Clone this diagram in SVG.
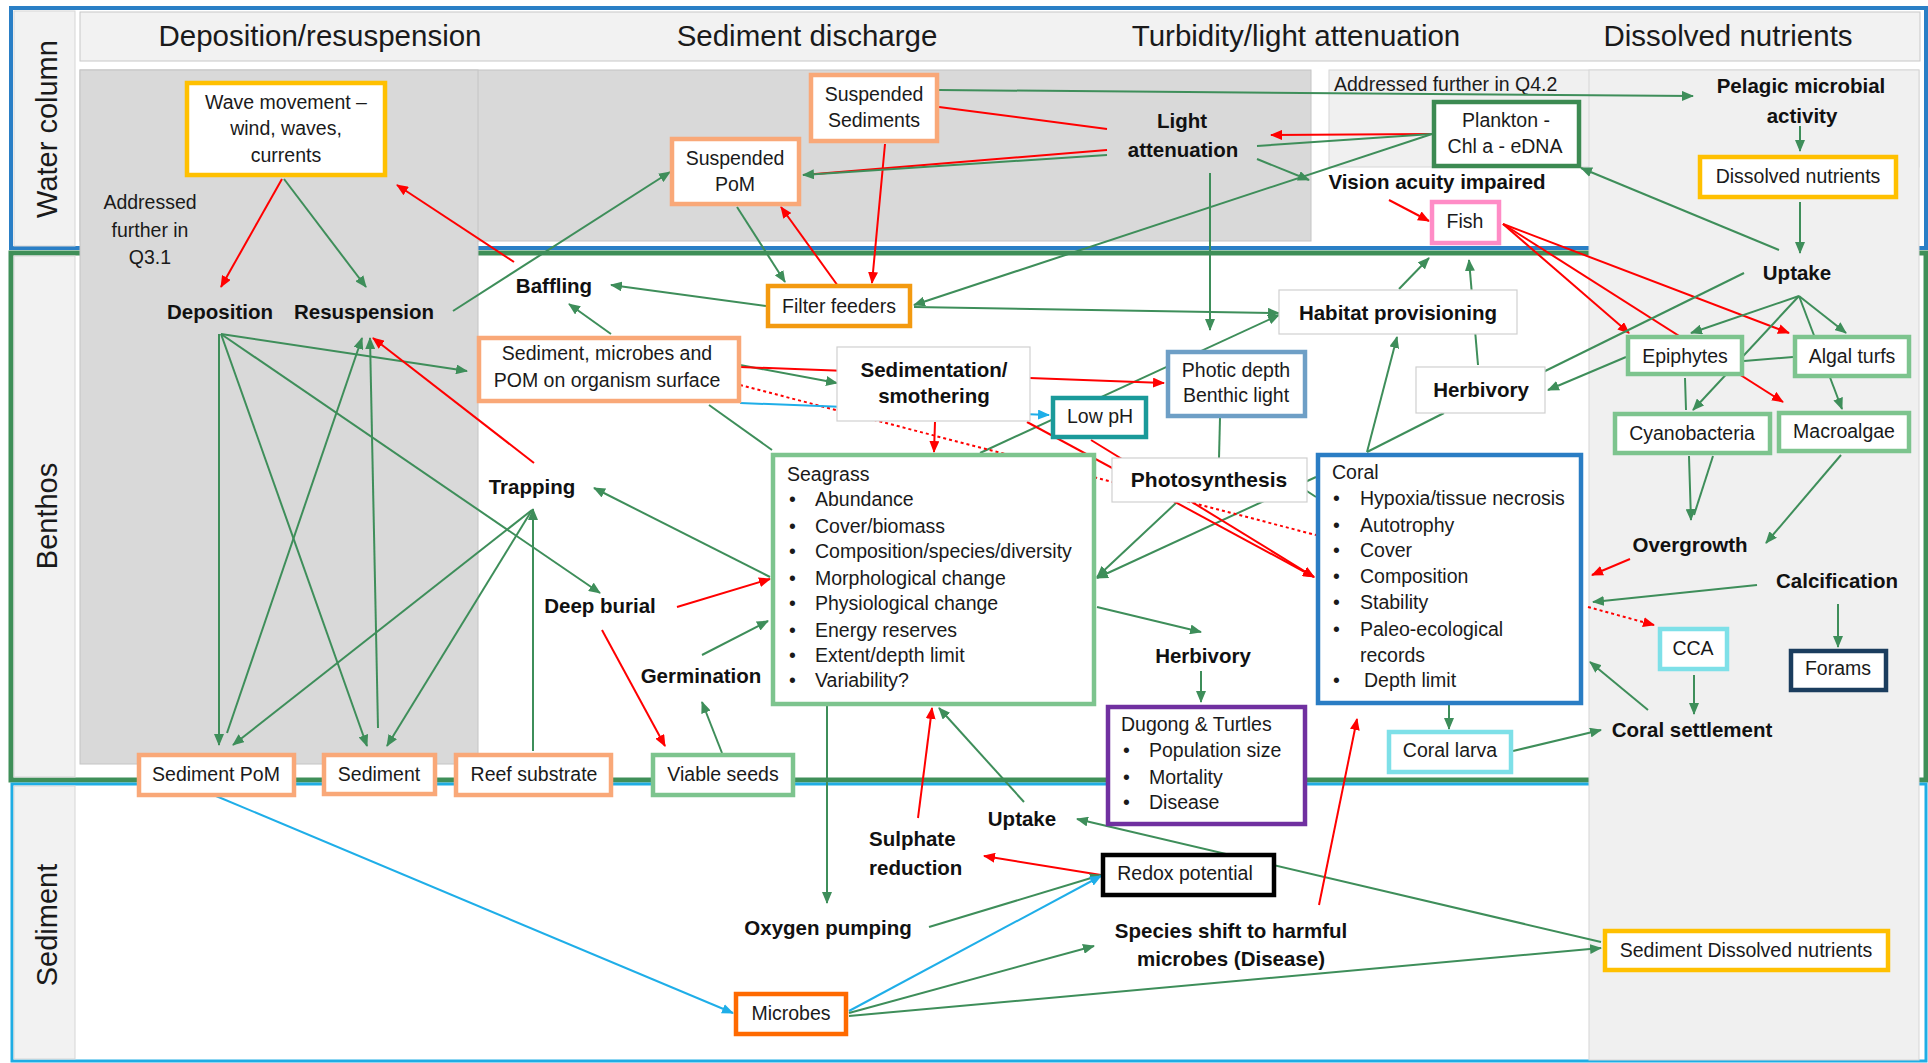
<svg xmlns="http://www.w3.org/2000/svg" width="1928" height="1063" viewBox="0 0 1928 1063">
<style>
text{font-family:"Liberation Sans",Arial,sans-serif;fill:#1a1a1a}
.t{font-size:19.5px;text-anchor:middle}
.ts{font-size:19.5px}
.l{font-size:20.5px;font-weight:bold;text-anchor:middle;fill:#111}
.h{font-size:29.5px;text-anchor:middle}
.v{font-size:29px;text-anchor:middle}
.bx{fill:#fff;stroke-width:4.5}
.tb{fill:#fff;stroke:#d0d0d0;stroke-width:1.2}
.c line{stroke-width:2;fill:none}
.g{stroke:#3E8E5A}.r{stroke:#FF0000}.b{stroke:#1FAEE8}
.d{stroke-dasharray:3 3}
.pe{stroke:#F9A878}.lg{stroke:#7DC48E}.go{stroke:#FFC000}
</style>
<defs>
<marker id="mg" viewBox="0 0 12 10" refX="11" refY="5" markerWidth="12" markerHeight="10" markerUnits="userSpaceOnUse" orient="auto"><path d="M0,0L12,5L0,10z" fill="#3E8E5A"/></marker>
<marker id="mr" viewBox="0 0 12 10" refX="11" refY="5" markerWidth="12" markerHeight="10" markerUnits="userSpaceOnUse" orient="auto"><path d="M0,0L12,5L0,10z" fill="#FF0000"/></marker>
<marker id="mb" viewBox="0 0 12 10" refX="11" refY="5" markerWidth="12" markerHeight="10" markerUnits="userSpaceOnUse" orient="auto"><path d="M0,0L12,5L0,10z" fill="#1FAEE8"/></marker>
</defs>
<rect width="1928" height="1063" fill="#fff"/>
<g id="bands">
<rect x="11" y="8" width="1915" height="240" fill="#fff" stroke="#2A7FC6" stroke-width="4"/>
<rect x="11" y="253" width="1915" height="527" fill="#fff" stroke="#3F8F58" stroke-width="5"/>
<rect x="12" y="784" width="1914" height="277" fill="#fff" stroke="#1FADE4" stroke-width="3"/>
<rect x="14" y="11" width="61" height="235" fill="#f2f2f2" stroke="#d6d6d6" stroke-width="1"/>
<rect x="14" y="256" width="61" height="521" fill="#f2f2f2" stroke="#d6d6d6" stroke-width="1"/>
<rect x="14" y="786" width="61" height="273" fill="#f2f2f2" stroke="#d6d6d6" stroke-width="1"/>
<text class="v" transform="translate(57,129) rotate(-90)">Water column</text>
<text class="v" transform="translate(57,516) rotate(-90)">Benthos</text>
<text class="v" transform="translate(57,925) rotate(-90)">Sediment</text>
</g>
<g id="panels">
<rect x="80" y="12" width="1840" height="49" fill="#f2f2f2" stroke="#c8c8c8" stroke-width="1"/>
<rect x="80" y="70" width="1231" height="171" fill="#d9d9d9" stroke="#c4c4c4" stroke-width="1"/>
<rect x="80" y="70" width="398" height="694" fill="#d9d9d9" stroke="#c4c4c4" stroke-width="1"/>
<rect x="81" y="71" width="396" height="170" fill="#d9d9d9"/>
<rect x="1329" y="70" width="590" height="97" fill="#f0f0f0" stroke="#d6d6d6" stroke-width="1"/>
<rect x="1589" y="70" width="330" height="990" fill="#f0f0f0" stroke="#d6d6d6" stroke-width="1"/>
<rect x="1590" y="71" width="328" height="97" fill="#f0f0f0"/>
<text class="h" x="320" y="46">Deposition/resuspension</text>
<text class="h" x="807" y="46">Sediment discharge</text>
<text class="h" x="1296" y="46">Turbidity/light attenuation</text>
<text class="h" x="1728" y="46">Dissolved nutrients</text>
<text class="t" x="150" y="209">Addressed</text>
<text class="t" x="150" y="237">further in</text>
<text class="t" x="150" y="264">Q3.1</text>
<text class="ts" x="1334" y="91">Addressed further in Q4.2</text>
</g>
<g id="connectors" class="c">
<line class="r" x1="282" y1="179" x2="221" y2="287" marker-end="url(#mr)"/>
<line class="g" x1="284" y1="179" x2="366" y2="287" marker-end="url(#mg)"/>
<line class="r" x1="514" y1="262" x2="397" y2="185" marker-end="url(#mr)"/>
<line class="g" x1="453" y1="311" x2="670" y2="172" marker-end="url(#mg)"/>
<line class="g" x1="737" y1="207" x2="785" y2="282" marker-end="url(#mg)"/>
<line class="r" x1="838" y1="286" x2="781" y2="207" marker-end="url(#mr)"/>
<line class="r" x1="885" y1="144" x2="872" y2="283" marker-end="url(#mr)"/>
<line class="g" x1="766" y1="306" x2="611" y2="285" marker-end="url(#mg)"/>
<line class="g" x1="611" y1="334" x2="569" y2="304" marker-end="url(#mg)"/>
<line class="r" x1="1107" y1="129" x2="939" y2="107"/>
<line class="r" x1="1107" y1="150" x2="803" y2="175"/>
<line class="g" x1="1107" y1="155" x2="803" y2="175" marker-end="url(#mg)"/>
<line class="r" x1="1432" y1="134" x2="1271" y2="135" marker-end="url(#mr)"/>
<line class="g" x1="1432" y1="134" x2="1257" y2="146"/>
<line class="g" x1="1257" y1="159" x2="1309" y2="180" marker-end="url(#mg)"/>
<line class="g" x1="1432" y1="134" x2="914" y2="305" marker-end="url(#mg)"/>
<line class="g" x1="914" y1="307" x2="1279" y2="313" marker-end="url(#mg)"/>
<line class="g" x1="1210" y1="173" x2="1210" y2="330" marker-end="url(#mg)"/>
<line class="g" x1="939" y1="90" x2="1693" y2="96" marker-end="url(#mg)"/>
<line class="g" x1="1800" y1="126" x2="1800" y2="151" marker-end="url(#mg)"/>
<line class="g" x1="1800" y1="202" x2="1800" y2="253" marker-end="url(#mg)"/>
<line class="g" x1="1779" y1="250" x2="1581" y2="168" marker-end="url(#mg)"/>
<line class="r" x1="1389" y1="200" x2="1429" y2="221" marker-end="url(#mr)"/>
<line class="r" x1="1503" y1="224" x2="1629" y2="333" marker-end="url(#mr)"/>
<line class="r" x1="1503" y1="224" x2="1783" y2="402" marker-end="url(#mr)"/>
<line class="r" x1="1503" y1="224" x2="1789" y2="333" marker-end="url(#mr)"/>
<line class="g" x1="1799" y1="296" x2="1691" y2="333" marker-end="url(#mg)"/>
<line class="g" x1="1799" y1="296" x2="1693" y2="410" marker-end="url(#mg)"/>
<line class="g" x1="1799" y1="296" x2="1846" y2="333" marker-end="url(#mg)"/>
<line class="g" x1="1799" y1="296" x2="1842" y2="409" marker-end="url(#mg)"/>
<line class="g" x1="1744" y1="273" x2="1533" y2="377" marker-end="url(#mg)"/>
<line class="g" x1="1793" y1="357" x2="1744" y2="361"/>
<line class="g" x1="1626" y1="357" x2="1548" y2="390" marker-end="url(#mg)"/>
<line class="g" x1="1685" y1="378" x2="1686" y2="410"/>
<line class="g" x1="1689" y1="456" x2="1691" y2="520" marker-end="url(#mg)"/>
<line class="g" x1="1713" y1="456" x2="1694" y2="515"/>
<line class="g" x1="1841" y1="455" x2="1766" y2="543" marker-end="url(#mg)"/>
<line class="r" x1="1630" y1="559" x2="1592" y2="575" marker-end="url(#mr)"/>
<line class="g" x1="1757" y1="585" x2="1593" y2="602" marker-end="url(#mg)"/>
<line class="g" x1="1838" y1="604" x2="1838" y2="647" marker-end="url(#mg)"/>
<line class="r d" x1="1588" y1="607" x2="1654" y2="625" marker-end="url(#mr)"/>
<line class="g" x1="1694" y1="675" x2="1694" y2="714" marker-end="url(#mg)"/>
<line class="g" x1="1648" y1="710" x2="1590" y2="662" marker-end="url(#mg)"/>
<line class="g" x1="1513" y1="751" x2="1601" y2="730" marker-end="url(#mg)"/>
<line class="g" x1="1449" y1="705" x2="1449" y2="729" marker-end="url(#mg)"/>
<line class="g" x1="1399" y1="289" x2="1429" y2="258" marker-end="url(#mg)"/>
<line class="g" x1="1478" y1="365" x2="1469" y2="260" marker-end="url(#mg)"/>
<line class="g" x1="1367" y1="452" x2="1397" y2="337" marker-end="url(#mg)"/>
<line class="g" x1="1367" y1="452" x2="1444" y2="413"/>
<line class="g" x1="1220" y1="418" x2="1219" y2="458"/>
<line class="g" x1="1176" y1="503" x2="1097" y2="577" marker-end="url(#mg)"/>
<line class="g" x1="1316" y1="477" x2="1097" y2="578" marker-end="url(#mg)"/>
<line class="g" x1="1290" y1="480" x2="1316" y2="497"/>
<line class="g" x1="980" y1="453" x2="1279" y2="315" marker-end="url(#mg)"/>
<line class="g" x1="1097" y1="607" x2="1201" y2="632" marker-end="url(#mg)"/>
<line class="g" x1="1201" y1="671" x2="1201" y2="702" marker-end="url(#mg)"/>
<line class="r" x1="935" y1="422" x2="934" y2="452" marker-end="url(#mr)"/>
<line class="g" x1="740" y1="365" x2="837" y2="383" marker-end="url(#mg)"/>
<line class="r" x1="740" y1="367" x2="1164" y2="383" marker-end="url(#mr)"/>
<line class="r d" x1="740" y1="385" x2="1316" y2="535"/>
<line class="b" x1="740" y1="403" x2="1049" y2="415" marker-end="url(#mb)"/>
<line class="r" x1="1027" y1="422" x2="1314" y2="577" marker-end="url(#mr)"/>
<line class="r" x1="1091" y1="440" x2="1314" y2="577" marker-end="url(#mr)"/>
<line class="g" x1="709" y1="405" x2="772" y2="450"/>
<line class="g" x1="219" y1="334" x2="219" y2="745" marker-end="url(#mg)"/>
<line class="g" x1="221" y1="334" x2="367" y2="746" marker-end="url(#mg)"/>
<line class="g" x1="221" y1="334" x2="467" y2="371" marker-end="url(#mg)"/>
<line class="g" x1="221" y1="334" x2="600" y2="593" marker-end="url(#mg)"/>
<line class="g" x1="227" y1="733" x2="362" y2="338" marker-end="url(#mg)"/>
<line class="g" x1="378" y1="728" x2="370" y2="338" marker-end="url(#mg)"/>
<line class="r" x1="534" y1="463" x2="373" y2="338" marker-end="url(#mr)"/>
<line class="g" x1="532" y1="510" x2="233" y2="745" marker-end="url(#mg)"/>
<line class="g" x1="532" y1="510" x2="387" y2="746" marker-end="url(#mg)"/>
<line class="g" x1="533" y1="751" x2="533" y2="509" marker-end="url(#mg)"/>
<line class="g" x1="770" y1="577" x2="594" y2="488" marker-end="url(#mg)"/>
<line class="r" x1="677" y1="607" x2="770" y2="579" marker-end="url(#mr)"/>
<line class="r" x1="602" y1="630" x2="665" y2="746" marker-end="url(#mr)"/>
<line class="g" x1="722" y1="753" x2="702" y2="702" marker-end="url(#mg)"/>
<line class="g" x1="702" y1="655" x2="768" y2="621" marker-end="url(#mg)"/>
<line class="g" x1="827" y1="706" x2="827" y2="903" marker-end="url(#mg)"/>
<line class="r" x1="918" y1="818" x2="932" y2="708" marker-end="url(#mr)"/>
<line class="g" x1="1024" y1="802" x2="939" y2="708" marker-end="url(#mg)"/>
<line class="g" x1="1601" y1="942" x2="1077" y2="819" marker-end="url(#mg)"/>
<line class="r" x1="1101" y1="875" x2="984" y2="856" marker-end="url(#mr)"/>
<line class="g" x1="929" y1="927" x2="1101" y2="875" marker-end="url(#mg)"/>
<line class="b" x1="849" y1="1011" x2="1101" y2="876" marker-end="url(#mb)"/>
<line class="g" x1="849" y1="1013" x2="1094" y2="946" marker-end="url(#mg)"/>
<line class="g" x1="849" y1="1016" x2="1601" y2="948" marker-end="url(#mg)"/>
<line class="b" x1="216" y1="796" x2="733" y2="1013" marker-end="url(#mb)"/>
<line class="r" x1="1319" y1="905" x2="1357" y2="719" marker-end="url(#mr)"/>
</g>
<g id="n-wave"><rect class="bx go" x="187" y="83" width="198" height="92"/><text class="t" x="286" y="109">Wave movement –</text><text class="t" x="286" y="135">wind, waves,</text><text class="t" x="286" y="162">currents</text></g>
<g id="n-deposition"><text class="l" x="220" y="319">Deposition</text></g>
<g id="n-resuspension"><text class="l" x="364" y="319">Resuspension</text></g>
<g id="n-susp-sed"><rect class="bx pe" x="811" y="75" width="126" height="66"/><text class="t" x="874" y="101">Suspended</text><text class="t" x="874" y="127">Sediments</text></g>
<g id="n-susp-pom"><rect class="bx pe" x="672" y="139" width="127" height="65"/><text class="t" x="735" y="165">Suspended</text><text class="t" x="735" y="191">PoM</text></g>
<g id="n-filter"><rect class="bx" stroke="#F39A10" x="768" y="286" width="142" height="40"/><text class="t" x="839" y="313">Filter feeders</text></g>
<g id="n-light"><text class="l" x="1182" y="128">Light</text><text class="l" x="1183" y="157">attenuation</text></g>
<g id="n-plankton"><rect class="bx" stroke="#3C8A52" x="1434" y="102" width="145" height="64"/><text class="t" x="1506" y="127">Plankton -</text><text class="t" x="1505" y="153">Chl a - eDNA</text></g>
<g id="n-pelagic"><text class="l" x="1801" y="93">Pelagic microbial</text><text class="l" x="1802" y="123">activity</text></g>
<g id="n-dissolved"><rect class="bx go" x="1700" y="157" width="196" height="40"/><text class="t" x="1798" y="183">Dissolved nutrients</text></g>
<g id="n-uptake"><text class="l" x="1797" y="280">Uptake</text></g>
<g id="n-vision"><text class="l" x="1437" y="189">Vision acuity impaired</text></g>
<g id="n-fish"><rect class="bx" stroke="#FF8CC6" x="1432" y="202" width="67" height="41"/><text class="t" x="1465" y="228">Fish</text></g>
<g id="n-baffling"><text class="l" x="554" y="293">Baffling</text></g>
<g id="n-habitat"><rect class="tb" x="1279" y="290" width="238" height="44"/><text class="l" x="1398" y="320">Habitat provisioning</text></g>
<g id="n-sedbox"><rect class="bx pe" x="479" y="338" width="260" height="63"/><text class="t" x="607" y="360">Sediment, microbes and</text><text class="t" x="607" y="387">POM on organism surface</text></g>
<g id="n-sedimentation"><rect class="tb" x="837" y="347" width="193" height="74"/><text class="l" x="934" y="377">Sedimentation/</text><text class="l" x="934" y="403">smothering</text></g>
<g id="n-photic"><rect class="bx" stroke="#6E9FC6" x="1168" y="352" width="137" height="64"/><text class="t" x="1236" y="377">Photic depth</text><text class="t" x="1236" y="402">Benthic light</text></g>
<g id="n-lowph"><rect class="bx" stroke="#1A9A9A" x="1053" y="398" width="93" height="39"/><text class="t" x="1100" y="423">Low pH</text></g>
<g id="n-herbivory-r"><rect class="tb" x="1416" y="367" width="129" height="46"/><text class="l" x="1481" y="397">Herbivory</text></g>
<g id="n-epiphytes"><rect class="bx lg" x="1628" y="337" width="114" height="37"/><text class="t" x="1685" y="363">Epiphytes</text></g>
<g id="n-algal"><rect class="bx lg" x="1795" y="337" width="114" height="39"/><text class="t" x="1852" y="363">Algal turfs</text></g>
<g id="n-cyano"><rect class="bx lg" x="1615" y="414" width="155" height="39"/><text class="t" x="1692" y="440">Cyanobacteria</text></g>
<g id="n-macro"><rect class="bx lg" x="1779" y="413" width="130" height="38"/><text class="t" x="1844" y="438">Macroalgae</text></g>
<g id="n-photosynthesis"><rect class="tb" x="1112" y="458" width="195" height="44"/><text class="l" x="1209" y="487" style="font-size:21px">Photosynthesis</text></g>
<g id="n-seagrass"><rect class="bx lg" x="773" y="455" width="321" height="249"/>
<text class="ts" x="787" y="481">Seagrass</text>
<g class="ts"><text x="789" y="506">•</text><text x="789" y="533">•</text><text x="789" y="558">•</text><text x="789" y="585">•</text><text x="789" y="610">•</text><text x="789" y="637">•</text><text x="789" y="662">•</text><text x="789" y="687">•</text></g>
<text class="ts" x="815" y="506">Abundance</text><text class="ts" x="815" y="533">Cover/biomass</text><text class="ts" x="815" y="558">Composition/species/diversity</text><text class="ts" x="815" y="585">Morphological change</text><text class="ts" x="815" y="610">Physiological change</text><text class="ts" x="815" y="637">Energy reserves</text><text class="ts" x="815" y="662">Extent/depth limit</text><text class="ts" x="815" y="687">Variability?</text></g>
<g id="n-coral"><rect class="bx" stroke="#2A7DC4" x="1318" y="455" width="263" height="248"/>
<text class="ts" x="1332" y="479">Coral</text>
<text class="ts" x="1333" y="505">•</text><text class="ts" x="1333" y="532">•</text><text class="ts" x="1333" y="557">•</text><text class="ts" x="1333" y="583">•</text><text class="ts" x="1333" y="609">•</text><text class="ts" x="1333" y="636">•</text><text class="ts" x="1333" y="687">•</text>
<text class="ts" x="1360" y="505">Hypoxia/tissue necrosis</text><text class="ts" x="1360" y="532">Autotrophy</text><text class="ts" x="1360" y="557">Cover</text><text class="ts" x="1360" y="583">Composition</text><text class="ts" x="1360" y="609">Stability</text><text class="ts" x="1360" y="636">Paleo-ecological</text><text class="ts" x="1360" y="662">records</text><text class="ts" x="1364" y="687">Depth limit</text></g>
<g id="n-trapping"><text class="l" x="532" y="494">Trapping</text></g>
<g id="n-deepburial"><text class="l" x="600" y="613">Deep burial</text></g>
<g id="n-germination"><text class="l" x="701" y="683">Germination</text></g>
<g id="n-herbivory-m"><text class="l" x="1203" y="663">Herbivory</text></g>
<g id="n-dugong"><rect class="bx" stroke="#7030A0" x="1108" y="707" width="197" height="117"/><text class="ts" x="1121" y="731">Dugong &amp; Turtles</text><text class="ts" x="1123" y="757">•</text><text class="ts" x="1123" y="784">•</text><text class="ts" x="1123" y="809">•</text><text class="ts" x="1149" y="757">Population size</text><text class="ts" x="1149" y="784">Mortality</text><text class="ts" x="1149" y="809">Disease</text></g>
<g id="n-overgrowth"><text class="l" x="1690" y="552">Overgrowth</text></g>
<g id="n-calcification"><text class="l" x="1837" y="588">Calcification</text></g>
<g id="n-cca"><rect class="bx" stroke="#7EE0E8" x="1660" y="629" width="67" height="40"/><text class="t" x="1693" y="655">CCA</text></g>
<g id="n-forams"><rect class="bx" stroke="#1B3D5E" x="1791" y="651" width="95" height="39"/><text class="t" x="1838" y="675">Forams</text></g>
<g id="n-coralsettle"><text class="l" x="1692" y="737">Coral settlement</text></g>
<g id="n-corallarva"><rect class="bx" stroke="#7EE0E8" x="1389" y="732" width="122" height="40"/><text class="t" x="1450" y="757">Coral larva</text></g>
<g id="n-sedpom"><rect class="bx pe" x="139" y="755" width="155" height="40"/><text class="t" x="216" y="781">Sediment PoM</text></g>
<g id="n-sediment"><rect class="bx pe" x="324" y="755" width="111" height="39"/><text class="t" x="379" y="781">Sediment</text></g>
<g id="n-reef"><rect class="bx pe" x="456" y="755" width="155" height="40"/><text class="t" x="534" y="781">Reef substrate</text></g>
<g id="n-seeds"><rect class="bx lg" x="653" y="755" width="140" height="40"/><text class="t" x="723" y="781">Viable seeds</text></g>
<g id="n-uptake-low"><text class="l" x="1022" y="826">Uptake</text></g>
<g id="n-sulphate"><text class="l" x="869" y="846" style="text-anchor:start">Sulphate</text><text class="l" x="869" y="875" style="text-anchor:start">reduction</text></g>
<g id="n-oxygen"><text class="l" x="828" y="935">Oxygen pumping</text></g>
<g id="n-redox"><rect class="bx" stroke="#000" x="1103" y="855" width="171" height="40"/><text class="t" x="1185" y="880">Redox potential</text></g>
<g id="n-species"><text class="l" x="1231" y="938">Species shift to harmful</text><text class="l" x="1231" y="966">microbes (Disease)</text></g>
<g id="n-microbes"><rect class="bx" stroke="#FF6A00" x="736" y="994" width="110" height="40"/><text class="t" x="791" y="1020">Microbes</text></g>
<g id="n-seddiss"><rect class="bx go" x="1605" y="931" width="283" height="39"/><text class="t" x="1746" y="957">Sediment Dissolved nutrients</text></g>
</svg>
